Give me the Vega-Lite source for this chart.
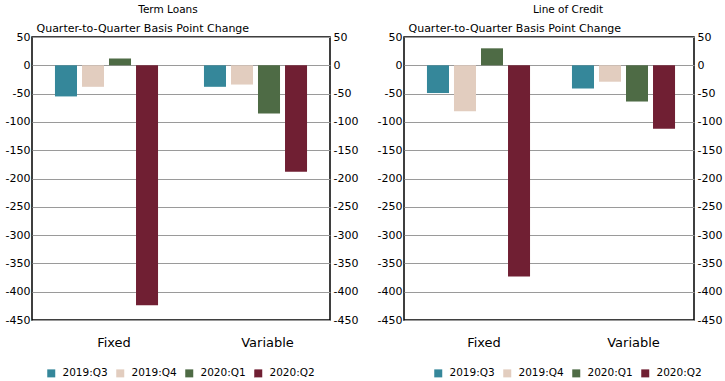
{
  "$schema": "https://vega.github.io/schema/vega-lite/v6.json",
  "padding": {"left": 4, "top": 3, "right": 0, "bottom": 0},
  "background": "white",
  "config": {
    "font": "DejaVu Sans",
    "view": {"stroke": "#000000", "strokeWidth": 1.5},
    "axis": {"labelFont": "DejaVu Sans", "titleFont": "DejaVu Sans", "labelColor": "#000000", "titleColor": "#000000"},
    "legend": {"labelFont": "DejaVu Sans", "labelColor": "#000000", "padding": 0},
    "title": {"font": "DejaVu Sans", "color": "#000000", "subtitleColor": "#000000"}
  },
  "datasets": {
    "rates": [
      {"panel": "Term Loans", "type": "Fixed", "quarter": "2019:Q3", "value": -55},
      {"panel": "Term Loans", "type": "Fixed", "quarter": "2019:Q4", "value": -38},
      {"panel": "Term Loans", "type": "Fixed", "quarter": "2020:Q1", "value": 12},
      {"panel": "Term Loans", "type": "Fixed", "quarter": "2020:Q2", "value": -424},
      {"panel": "Term Loans", "type": "Variable", "quarter": "2019:Q3", "value": -38},
      {"panel": "Term Loans", "type": "Variable", "quarter": "2019:Q4", "value": -34},
      {"panel": "Term Loans", "type": "Variable", "quarter": "2020:Q1", "value": -85},
      {"panel": "Term Loans", "type": "Variable", "quarter": "2020:Q2", "value": -188},
      {"panel": "Line of Credit", "type": "Fixed", "quarter": "2019:Q3", "value": -49},
      {"panel": "Line of Credit", "type": "Fixed", "quarter": "2019:Q4", "value": -81},
      {"panel": "Line of Credit", "type": "Fixed", "quarter": "2020:Q1", "value": 30},
      {"panel": "Line of Credit", "type": "Fixed", "quarter": "2020:Q2", "value": -373},
      {"panel": "Line of Credit", "type": "Variable", "quarter": "2019:Q3", "value": -41},
      {"panel": "Line of Credit", "type": "Variable", "quarter": "2019:Q4", "value": -29},
      {"panel": "Line of Credit", "type": "Variable", "quarter": "2020:Q1", "value": -64},
      {"panel": "Line of Credit", "type": "Variable", "quarter": "2020:Q2", "value": -112}
    ]
  },
  "spacing": 17,
  "resolve": {"scale": {"color": "independent"}, "legend": {"color": "independent"}},
  "hconcat": [
    {
      "width": 298,
      "height": 283,
      "data": {"name": "rates"},
      "transform": [{"filter": "datum.panel === 'Term Loans'"}],
      "title": {"text": "Term Loans", "fontSize": 10.5, "fontWeight": "normal", "anchor": "middle", "dx": -13, "offset": 7},
      "layer": [
        {
          "mark": {"type": "bar"},
          "encoding": {
            "x": {"field": "type", "type": "nominal", "scale": {"paddingInner": 0, "paddingOuter": 0},
                  "axis": {"title": null, "labelAngle": 0, "ticks": false, "domain": false, "labelFontSize": 13, "labelPadding": 16,
                           "labelOffset": {"condition": {"test": "datum.value === 'Fixed'", "value": 7.5}, "value": 12}}},
            "xOffset": {"field": "quarter", "type": "nominal", "scale": {"paddingInner": 0.185, "paddingOuter": 0.85}},
            "y": {"field": "value", "type": "quantitative",
                  "scale": {"domain": [-450, 50], "nice": false, "zero": false},
                  "axis": {"title": "Quarter-to-Quarter Basis Point Change", "titleAngle": 0, "titleAlign": "left", "titleBaseline": "bottom",
                           "titleX": 4, "titleY": -4, "titleFontSize": 11, "titleFontWeight": "normal",
                           "values": [-450, -400, -350, -300, -250, -200, -150, -100, -50, 0, 50],
                           "labelExpr": "replace(datum.label, '\u2212', '-')",
                           "grid": true, "gridColor": "#9a9a9a", "gridWidth": 1.2, "ticks": false, "domain": false,
                           "labelFontSize": 11, "labelPadding": 2}},
            "color": {"field": "quarter", "type": "nominal",
                      "scale": {"domain": ["2019:Q3", "2019:Q4", "2020:Q1", "2020:Q2"], "range": ["#35879a", "#e2cdbf", "#4e6b45", "#701f33"]},
                      "legend": {"title": null, "orient": "none", "legendX": 14, "legendY": 331, "direction": "horizontal",
                                 "symbolType": "square", "symbolSize": 64, "symbolStrokeWidth": 0, "labelFontSize": 10.5,
                                 "columnPadding": 7, "labelOffset": 6}}
          }
        },
        {
          "mark": {"type": "bar", "opacity": 0},
          "encoding": {
            "x": {"field": "type", "type": "nominal"},
            "xOffset": {"field": "quarter", "type": "nominal"},
            "y": {"field": "value", "type": "quantitative",
                  "axis": {"orient": "right", "title": null, "grid": false, "ticks": false, "domain": false,
                           "values": [-450, -400, -350, -300, -250, -200, -150, -100, -50, 0, 50],
                           "labelExpr": "replace(datum.label, '\u2212', '-')",
                           "labelFontSize": 11, "labelPadding": 3}}
          }
        }
      ],
      "resolve": {"axis": {"y": "independent"}}
    },
    {
      "width": 290,
      "height": 283,
      "data": {"name": "rates"},
      "transform": [{"filter": "datum.panel === 'Line of Credit'"}],
      "title": {"text": "Line of Credit", "fontSize": 10.5, "fontWeight": "normal", "anchor": "middle", "dx": 19, "offset": 7},
      "layer": [
        {
          "mark": {"type": "bar"},
          "encoding": {
            "x": {"field": "type", "type": "nominal", "scale": {"paddingInner": 0, "paddingOuter": 0},
                  "axis": {"title": null, "labelAngle": 0, "ticks": false, "domain": false, "labelFontSize": 13, "labelPadding": 16,
                           "labelOffset": {"condition": {"test": "datum.value === 'Fixed'", "value": 7.5}, "value": 12}}},
            "xOffset": {"field": "quarter", "type": "nominal", "scale": {"paddingInner": 0.2, "paddingOuter": 0.85}},
            "y": {"field": "value", "type": "quantitative",
                  "scale": {"domain": [-450, 50], "nice": false, "zero": false},
                  "axis": {"title": "Quarter-to-Quarter Basis Point Change", "titleAngle": 0, "titleAlign": "left", "titleBaseline": "bottom",
                           "titleX": 4, "titleY": -4, "titleFontSize": 11, "titleFontWeight": "normal",
                           "values": [-450, -400, -350, -300, -250, -200, -150, -100, -50, 0, 50],
                           "labelExpr": "replace(datum.label, '\u2212', '-')",
                           "grid": true, "gridColor": "#9a9a9a", "gridWidth": 1.2, "ticks": false, "domain": false,
                           "labelFontSize": 11, "labelPadding": 2}},
            "color": {"field": "quarter", "type": "nominal",
                      "scale": {"domain": ["2019:Q3", "2019:Q4", "2020:Q1", "2020:Q2"], "range": ["#35879a", "#e2cdbf", "#4e6b45", "#701f33"]},
                      "legend": {"title": null, "orient": "none", "legendX": 29, "legendY": 331, "direction": "horizontal",
                                 "symbolType": "square", "symbolSize": 64, "symbolStrokeWidth": 0, "labelFontSize": 10.5,
                                 "columnPadding": 7, "labelOffset": 6}}
          }
        },
        {
          "mark": {"type": "bar", "opacity": 0},
          "encoding": {
            "x": {"field": "type", "type": "nominal"},
            "xOffset": {"field": "quarter", "type": "nominal"},
            "y": {"field": "value", "type": "quantitative",
                  "axis": {"orient": "right", "title": null, "grid": false, "ticks": false, "domain": false,
                           "values": [-450, -400, -350, -300, -250, -200, -150, -100, -50, 0, 50],
                           "labelExpr": "replace(datum.label, '\u2212', '-')",
                           "labelFontSize": 11, "labelPadding": 3}}
          }
        }
      ],
      "resolve": {"axis": {"y": "independent"}}
    }
  ]
}
